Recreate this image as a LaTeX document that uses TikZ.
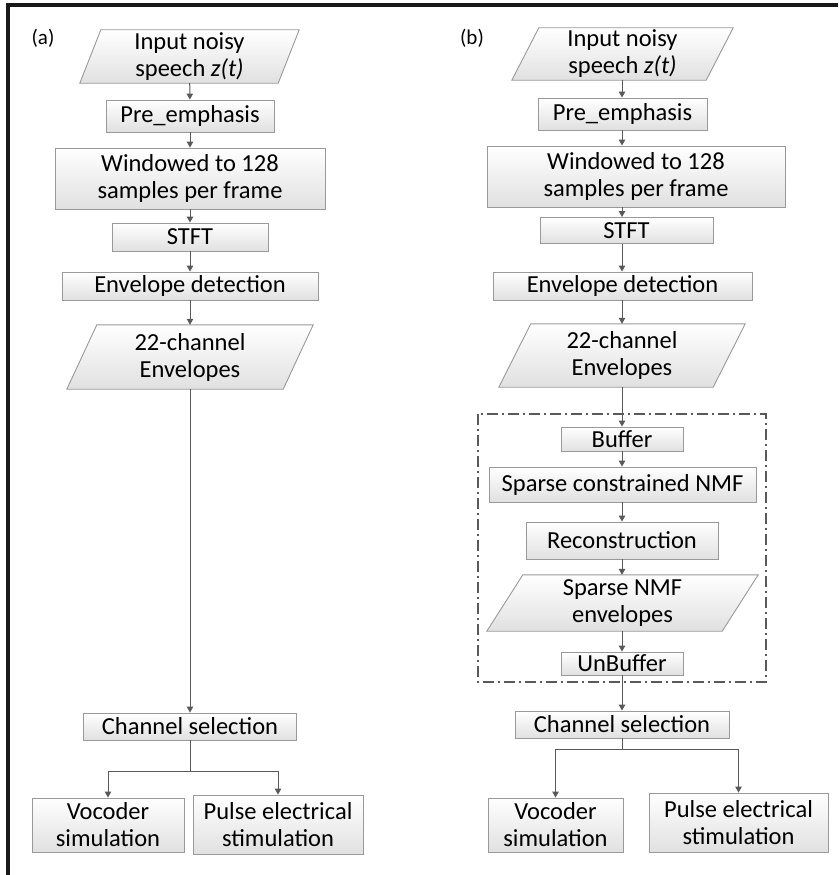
\documentclass[tikz,border=0pt]{standalone}
\usepackage{fontspec}
\setmainfont{Carlito}
\usetikzlibrary{arrows.meta,backgrounds}
\tikzset{
  boxline/.style={draw=black!40, line width=0.9pt, top color=white, bottom color=black!12},
  box/.style={boxline, rectangle, inner sep=0pt, align=center, font=\fontsize{24.5}{27}\selectfont, text=black},
  paratext/.style={rectangle, inner sep=0pt, align=center, font=\fontsize{24.5}{27}\selectfont, text=black},
  conn/.style={draw=black!65, line width=1pt},
  arr/.style={conn, -{Triangle[length=6pt,width=6.5pt]}},
  panellabel/.style={font=\fontsize{21}{24}\selectfont, text=black},
  groupbox/.style={draw=black!65, line width=1.4pt, dash pattern=on 11pt off 4pt on 2pt off 4pt}
}
\newcommand\drawpara[2]{%
  \begin{pgfonlayer}{background}
  \path[boxline] (#1.south west) -- ([xshift=#2]#1.north west) -- (#1.north east) -- ([xshift=-#2]#1.south east) -- cycle;
  \end{pgfonlayer}}
\begin{document}
\begin{tikzpicture}[x=1pt,y=-1pt]
\useasboundingbox (0,0) rectangle (838,875);
% frame
\coordinate (fc) at (8,5);
\draw[line width=3.5pt, black!90] (fc) -- (838,5);
\draw[line width=3.5pt, black!90] ([yshift=1.75pt]fc) -- (8,875);

% ---------- panel (a) ----------
\node[panellabel] (la) at (43,38) {(a)};
\node[paratext, minimum width=219, minimum height=53] (ina) at (189.5,56.5) {Input noisy\\speech \textit{z(t)}};
\drawpara{ina}{21}
\node[box, minimum width=168, minimum height=32] (pa) at (190,116) {Pre\_emphasis};
\node[box, minimum width=270, minimum height=61] (wa) at (190,178.5) {Windowed to 128\\samples per frame};
\node[box, minimum width=156, minimum height=28] (sa) at (190,237) {STFT};
\node[box, minimum width=256, minimum height=28] (ea) at (190,286) {Envelope detection};
\node[paratext, minimum width=246, minimum height=64] (ca) at (190,357) {22-channel\\Envelopes};
\drawpara{ca}{30}
\node[box, minimum width=213, minimum height=27] (csa) at (190,726.5) {Channel selection};
\node[box, minimum width=152, minimum height=54] (va) at (108,825) {Vocoder\\simulation};
\node[box, minimum width=170, minimum height=59] (pua) at (278,824.5) {Pulse electrical\\stimulation};

\draw[arr] (ina) -- (pa);
\draw[arr] (pa) -- (wa);
\draw[arr] (wa) -- (sa);
\draw[arr] (sa) -- (ea);
\draw[arr] (ea) -- (ca);
\draw[arr] (ca) -- (csa);
\coordinate (ja) at (190,771);
\draw[conn] (csa) -- (ja);
\draw[arr] (ja) -| (va);
\draw[arr] (ja) -| (pua);

% ---------- panel (b) ----------
\node[panellabel] (lb) at (472,38) {(b)};
\coordinate (colb) at (622,0);
\node[paratext, minimum width=221, minimum height=52] (inb) at (622.5,54) {Input noisy\\speech \textit{z(t)}};
\drawpara{inb}{27}
\node[box, minimum width=169, minimum height=32] (pb) at (622.5,114) {Pre\_emphasis};
\node[box, minimum width=298, minimum height=61] (wb) at (636,176.5) {Windowed to 128\\samples per frame};
\node[box, minimum width=173, minimum height=26] (sb) at (626.5,230.5) {STFT};
\node[box, minimum width=259, minimum height=28] (eb) at (622.5,286) {Envelope detection};
\node[paratext, minimum width=246, minimum height=63] (cb) at (622,355.5) {22-channel\\Envelopes};
\drawpara{cb}{32}
\node[box, minimum width=122, minimum height=24] (bb) at (622,439) {Buffer};
\node[box, minimum width=267, minimum height=35] (nb) at (622.5,484.5) {Sparse constrained NMF};
\node[box, minimum width=192, minimum height=37] (rb) at (622,540.5) {Reconstruction};
\node[paratext, minimum width=271, minimum height=56] (snb) at (622.5,603) {Sparse NMF\\envelopes};
\drawpara{snb}{36}
\node[box, minimum width=122, minimum height=23] (ub) at (622,663.5) {UnBuffer};
\node[box, minimum width=214, minimum height=27] (csb) at (622,724.5) {Channel selection};
\node[box, minimum width=135, minimum height=54] (vb) at (555.5,825) {Vocoder\\simulation};
\node[box, minimum width=179, minimum height=59] (pub) at (738.5,822.5) {Pulse electrical\\stimulation};
\coordinate (gtl) at (478,414);
\coordinate (gbr) at (766,682);
\draw[groupbox] (gtl) rectangle (gbr);

\draw[arr] (colb |- inb.south) -- (colb |- pb.north);
\draw[arr] (colb |- pb.south) -- (colb |- wb.north);
\draw[arr] (colb |- wb.south) -- (colb |- sb.north);
\draw[arr] (colb |- sb.south) -- (colb |- eb.north);
\draw[arr] (colb |- eb.south) -- (colb |- cb.north);
\draw[arr] (colb |- cb.south) -- (colb |- bb.north);
\draw[arr] (colb |- bb.south) -- (colb |- nb.north);
\draw[arr] (colb |- nb.south) -- (colb |- rb.north);
\draw[arr] (colb |- rb.south) -- (colb |- snb.north);
\draw[arr] (colb |- snb.south) -- (colb |- ub.north);
\draw[arr] (colb |- ub.south) -- (colb |- csb.north);
\coordinate (jb) at (622,749);
\draw[conn] (colb |- csb.south) -- (jb);
\draw[arr] (jb) -| (vb);
\draw[arr] (jb) -| (pub);
\end{tikzpicture}
\end{document}
